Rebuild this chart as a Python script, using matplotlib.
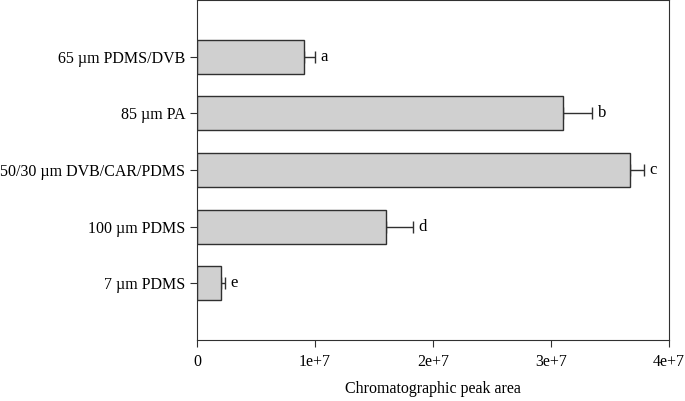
import matplotlib
matplotlib.use("Agg")
import matplotlib.pyplot as plt

plt.rcParams['font.family'] = ['Liberation Serif', 'DejaVu Serif']

# Data (top to bottom)
fibers = ["65 \u00b5m PDMS/DVB", "85 \u00b5m PA", "50/30 \u00b5m DVB/CAR/PDMS",
          "100 \u00b5m PDMS", "7 \u00b5m PDMS"]
peak_area = [9.1e6, 3.10e7, 3.67e7, 1.60e7, 0.20e7]
peak_err = [0.9e6, 0.25e7, 0.12e7, 0.23e7, 0.04e7]
letters = ["a", "b", "c", "d", "e"]

fig = plt.figure(figsize=(6.85, 4.01), dpi=100)
ax = fig.add_axes([0.2876, 0.152, 0.689, 0.848])

pos = list(range(len(fibers) - 1, -1, -1))
ax.barh(pos, peak_area, height=0.6, color="#d0d0d0", edgecolor="#303030",
        linewidth=1.0, zorder=2)
# one-sided (upper) error bars
ax.errorbar(peak_area, pos, xerr=[[0] * len(peak_err), peak_err], fmt="none",
            ecolor="#303030", elinewidth=1.0, capsize=4, capthick=1.0, zorder=1)
for p, v, e, l in zip(pos, peak_area, peak_err, letters):
    ax.text(v + e + 0.045e7, p, l, ha="left", va="center", fontsize=12)

ax.set_yticks(pos)
ax.set_yticklabels(fibers, fontsize=11.5)
ax.set_ylim(-1, 5)
ax.set_xlim(0, 4e7)
ax.set_xticks([0, 1e7, 2e7, 3e7, 4e7])
ax.set_xticklabels(["0", "1e+7", "2e+7", "3e+7", "4e+7"], fontsize=11.5)
ax.tick_params(direction="out", length=5, width=0.8, colors="#303030", labelcolor="black")
ax.tick_params(axis="x", pad=5)
ax.set_xlabel("Chromatographic peak area", fontsize=11.5, labelpad=8)
for s in ax.spines.values():
    s.set_linewidth(0.8)
    s.set_color("#303030")

fig.savefig("out.png", dpi=100)
